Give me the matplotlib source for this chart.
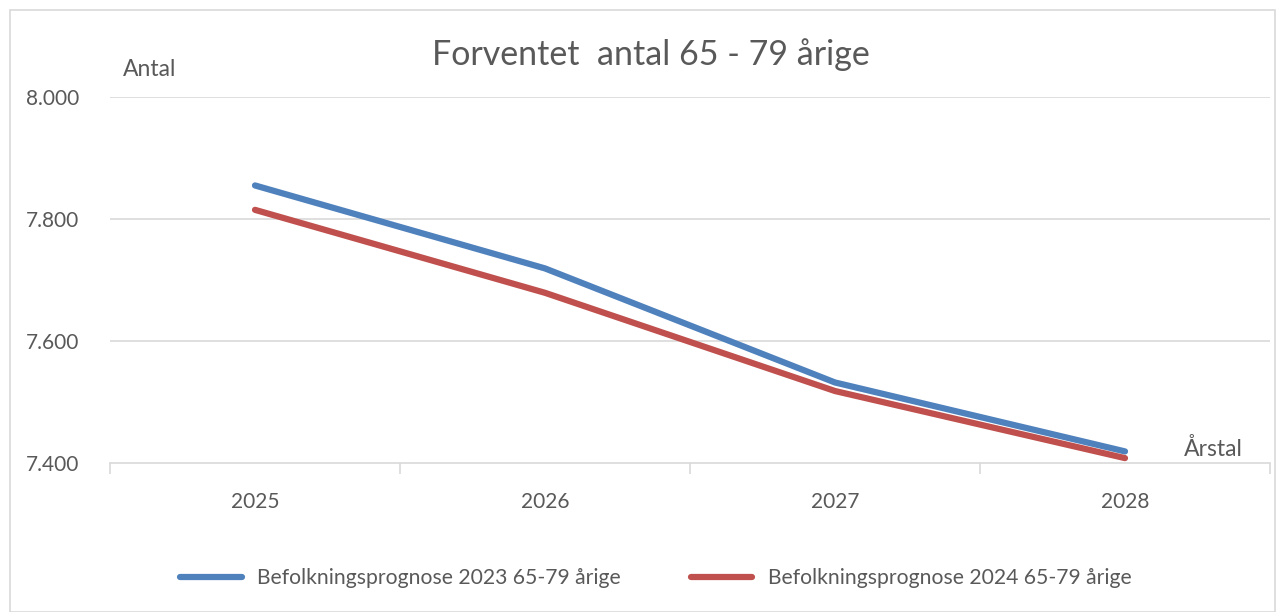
import matplotlib
matplotlib.use("Agg")
import matplotlib.pyplot as plt
from matplotlib.patches import Rectangle

# Data
years = ["2025", "2026", "2027", "2028"]
prognose_2023 = [7855, 7719, 7532, 7419]
prognose_2024 = [7815, 7679, 7518, 7408]
y_ticks = [7400, 7600, 7800, 8000]
y_tick_labels = ["7.400", "7.600", "7.800", "8.000"]

plt.rcParams['font.family'] = ['Lato', 'DejaVu Sans']
text_col = '#595959'
grid_col = '#d9d9d9'

W, H = 1285, 612
fig = plt.figure(figsize=(W / 100, H / 100), dpi=100)

# outer chart border
fig.patches.append(Rectangle((10 / W, 0), 1265 / W, (H - 10) / H, transform=fig.transFigure,
                             fill=False, edgecolor=grid_col, linewidth=1.2))

ax = fig.add_axes([110 / W, 1 - 463 / H, 1160 / W, 366 / H])
x = range(len(years))
ax.plot(x, prognose_2023, color='#4f81bd', lw=4.5, solid_capstyle='round',
        label='Befolkningsprognose 2023 65-79 årige')
ax.plot(x, prognose_2024, color='#c0504d', lw=4.5, solid_capstyle='round',
        label='Befolkningsprognose 2024 65-79 årige')

ax.set_xlim(-0.5, 3.5)
ax.set_ylim(7400, 8000)
ax.set_yticks(y_ticks)
ax.set_yticklabels(y_tick_labels, fontsize=15, color=text_col)
ax.set_xticks(list(x))
ax.set_xticklabels(years, fontsize=15, color=text_col)
ax.tick_params(axis='x', length=0, pad=21)
ax.tick_params(axis='y', length=0, pad=22)
for yv in y_ticks[1:]:
    ax.axhline(yv, color=grid_col, lw=1.2, zorder=0)
for s in ['top', 'right', 'left']:
    ax.spines[s].set_visible(False)
ax.spines['bottom'].set_color(grid_col)
ax.spines['bottom'].set_linewidth(1.2)
# category boundary tick marks
ax.set_xticks([-0.5, 0.5, 1.5, 2.5, 3.5], minor=True)
ax.tick_params(axis='x', which='minor', length=8, color=grid_col, width=1.2)

fig.text(651 / W, 1 - 55 / H, 'Forventet  antal 65 - 79 årige', ha='center', va='center',
         fontsize=24.5, color=text_col)
fig.text(150 / W, 1 - 70 / H, 'Antal', ha='center', va='center', fontsize=16.5, color=text_col)
fig.text(1213 / W, 1 - 449 / H, 'Årstal', ha='center', va='center', fontsize=16.5, color=text_col)

fig.legend(loc='center', bbox_to_anchor=(656 / W, 1 - 578 / H), ncol=2, frameon=False,
           fontsize=15.2, labelcolor=text_col, handlelength=2.9, handletextpad=0.75,
           columnspacing=3.3)

fig.savefig('out.png', dpi=100)
